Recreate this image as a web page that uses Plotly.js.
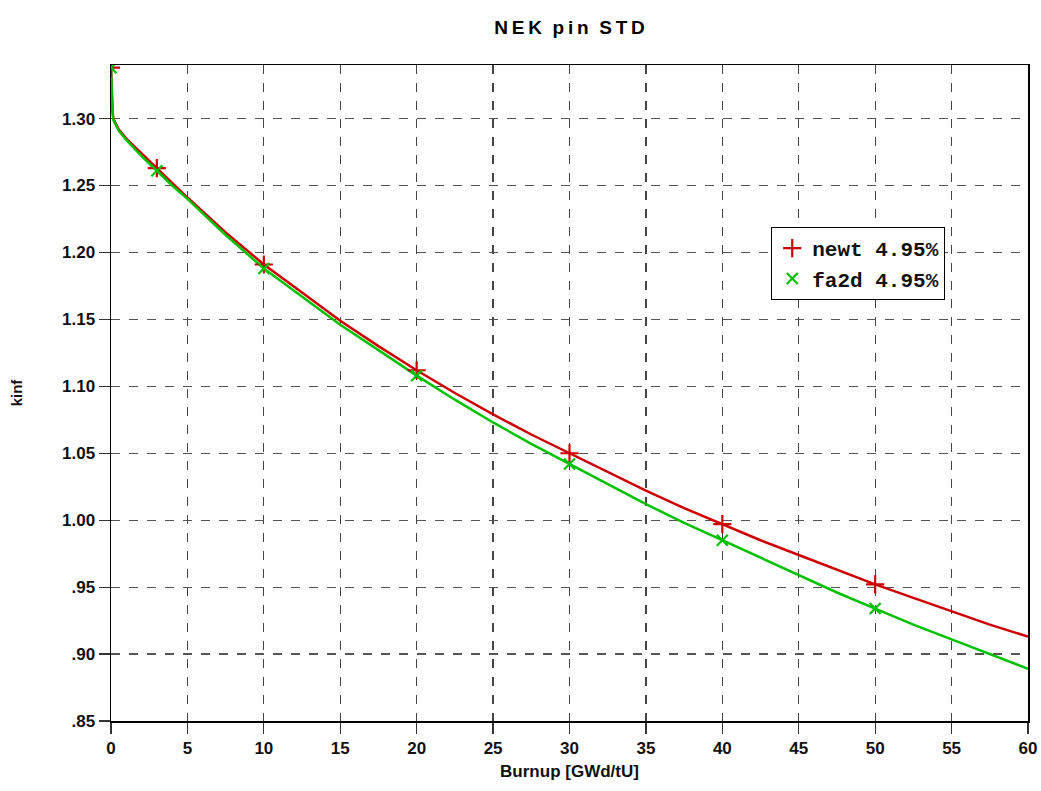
<!DOCTYPE html>
<html>
<head>
<meta charset="utf-8">
<script src="https://cdn.plot.ly/plotly-3.0.1.min.js"></script>
<style>html,body{margin:0;padding:0;background:#fff;}#chart{width:1041px;height:791px;}</style>
</head>
<body>
<div id="chart"></div>
<script>
// Burnup steps for continuous curves
const burnup = [0, 0.05, 0.1, 0.15, 0.3, 0.5, 1, 2, 3, 4, 5, 7.5, 10, 12.5, 15, 17.5, 20, 22.5, 25, 27.5, 30, 32.5, 35, 37.5, 40, 42.5, 45, 47.5, 50, 52.5, 55, 57.5, 60];
const newtK = [1.338, 1.318, 1.306, 1.300, 1.296, 1.292, 1.285, 1.274, 1.263, 1.252, 1.241, 1.215, 1.191, 1.170, 1.149, 1.130, 1.112, 1.095, 1.079, 1.064, 1.050, 1.036, 1.022, 1.009, 0.997, 0.985, 0.974, 0.963, 0.952, 0.942, 0.932, 0.922, 0.913];
const fa2dK = [1.338, 1.317, 1.305, 1.299, 1.295, 1.291, 1.284, 1.272, 1.261, 1.250, 1.240, 1.213, 1.188, 1.167, 1.146, 1.127, 1.108, 1.090, 1.073, 1.057, 1.042, 1.027, 1.012, 0.998, 0.985, 0.972, 0.959, 0.946, 0.934, 0.922, 0.911, 0.900, 0.889];
// Marker points
const markBurnup = [0, 3, 10, 20, 30, 40, 50];
const newtMark = [1.338, 1.263, 1.191, 1.112, 1.050, 0.997, 0.952];
const fa2dMark = [1.338, 1.261, 1.188, 1.108, 1.042, 0.985, 0.934];
// Axis ticks
const xTicks = [0, 5, 10, 15, 20, 25, 30, 35, 40, 45, 50, 55, 60];
const yTickVals = [0.85, 0.90, 0.95, 1.00, 1.05, 1.10, 1.15, 1.20, 1.25, 1.30];
const yTickText = ['.85', '.90', '.95', '1.00', '1.05', '1.10', '1.15', '1.20', '1.25', '1.30'];
const seriesNames = ['newt 4.95%', 'fa2d 4.95%'];

const red = '#cc0000', green = '#00c000';
const traces = [
  {x: burnup, y: newtK, mode: 'lines', line: {color: red, width: 2.5}, showlegend: false, hoverinfo: 'skip'},
  {x: burnup, y: fa2dK, mode: 'lines', line: {color: green, width: 2.5}, showlegend: false, hoverinfo: 'skip'},
  {x: markBurnup, y: newtMark, mode: 'markers', name: seriesNames[0], marker: {symbol: 'cross-thin', size: 13, color: red, line: {color: red, width: 2.2}}, cliponaxis: true},
  {x: markBurnup, y: fa2dMark, mode: 'markers', name: seriesNames[1], marker: {symbol: 'x-thin', size: 11, color: green, line: {color: green, width: 2.2}}, cliponaxis: true}
];

const narrow = 'Liberation Sans Narrow, Arial Narrow, Liberation Sans, sans-serif';
const axisFont = {family: narrow, size: 17, color: '#111', weight: 'bold'};
const ts = '\u2009';
const layout = {
  width: 1041, height: 791,
  paper_bgcolor: '#fff', plot_bgcolor: '#fff',
  margin: {l: 111, r: 13, t: 65, b: 70},
  title: {text: ['N','E','K'].join(ts) + '  ' + ['p','i','n'].join(ts) + '  ' + ['S','T','D'].join(ts),
          xref: 'paper', x: 0.5, xanchor: 'center', y: 0.966, yanchor: 'middle',
          font: {family: narrow, size: 19, color: '#000', weight: 'bold'}},
  xaxis: {
    range: [0, 60], tickvals: xTicks, ticktext: xTicks.map(String),
    ticks: 'outside', ticklen: 11, tickcolor: '#333', tickwidth: 1.2,
    showline: true, linecolor: '#000', linewidth: 1.5, mirror: true,
    showgrid: true, gridcolor: '#444', griddash: 'dash', gridwidth: 1.2,
    zeroline: false, tickfont: axisFont,
    title: {text: 'Burnup [GWd/tU]', font: axisFont, standoff: 8}
  },
  yaxis: {
    range: [0.85, 1.34], tickvals: yTickVals, ticktext: yTickText,
    ticks: 'outside', ticklen: 11, tickcolor: '#333', tickwidth: 1.2,
    showline: true, linecolor: '#000', linewidth: 1.5, mirror: true,
    showgrid: true, gridcolor: '#555', griddash: 'dash', gridwidth: 1.2,
    zeroline: false, tickfont: axisFont,
    title: {text: 'kinf', font: {family: narrow, size: 15, color: '#111', weight: 'bold'}, standoff: 36}
  },
  legend: {
    x: 0.72, y: 0.753, xanchor: 'left', yanchor: 'top',
    bgcolor: '#fff', bordercolor: '#000', borderwidth: 1,
    font: {family: 'Liberation Mono, Courier New, monospace', size: 21, color: '#111', weight: 'bold'},
    itemwidth: 30, tracegroupgap: 0
  },
  showlegend: true
};
Plotly.newPlot('chart', traces, layout, {displayModeBar: false, staticPlot: true});
</script>
</body>
</html>
